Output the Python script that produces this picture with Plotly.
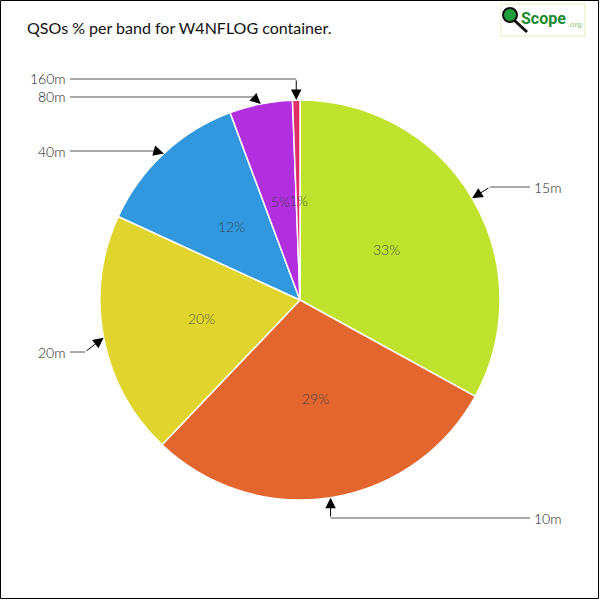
import math
import plotly.graph_objects as go

bands = ["15m", "10m", "20m", "40m", "80m", "160m"]
qsos = [331, 292, 198, 125, 51, 6]
colors = ["#BFE22D", "#E2662E", "#E0D52D", "#3197DE", "#B12FDE", "#E0306A"]
title_text = "QSOs % per band for W4NFLOG container."

W = H = 600
CX, CY, R = 300, 300, 200

fig = go.Figure()
fig.add_trace(go.Pie(
    labels=bands, values=qsos, sort=False, direction="clockwise", rotation=0,
    marker=dict(colors=colors, line=dict(color="white", width=1.5)),
    textinfo="none",
    domain=dict(x=[(CX - R) / W, (CX + R) / W], y=[(H - CY - R) / H, (H - CY + R) / H]),
    showlegend=False, hoverinfo="label+percent",
))

# label layout: (label side, label y in px, elbow x in px)
label_layout = {
    "15m": ("right", 187, 490),
    "10m": ("right", 518, None),
    "20m": ("left", 352, 85),
    "40m": ("left", 151, 155),
    "80m": ("left", 97, 253),
    "160m": ("left", 79, None),
}

total = sum(qsos)
cum = 0.0
annotations = []
shapes = []
for band, v in zip(bands, qsos):
    mid = (cum + v / 2) / total * 2 * math.pi
    cum += v
    tx = CX + R * math.sin(mid)
    ty = CY - R * math.cos(mid)
    # percentage label at half radius
    px = CX + 0.5 * R * math.sin(mid)
    py = CY - 0.5 * R * math.cos(mid)
    annotations.append(dict(xref="paper", yref="paper", x=px / W, y=1 - py / H,
                            xanchor="center", yanchor="middle", showarrow=False,
                            text=f"{math.floor(100 * v / total + 0.5):.0f}%",
                            font=dict(family="Lato", size=14, color="rgba(50,60,70,0.85)", weight=300)))
    side, ly, ex = label_layout[band]
    if ex is None:
        ex = tx
    ey = ly
    lx = 530 if side == "right" else 70
    shapes.append(dict(type="line", xref="paper", yref="paper",
                       x0=lx / W, y0=1 - ly / H, x1=ex / W, y1=1 - ey / H,
                       line=dict(color="#555555", width=1)))
    annotations.append(dict(xref="paper", yref="paper", x=tx / W, y=1 - ty / H,
                            ax=ex - tx, ay=ey - ty, axref="pixel", ayref="pixel",
                            showarrow=True, arrowhead=2, arrowsize=2.1, arrowwidth=1,
                            arrowcolor="#000000", text=""))
    annotations.append(dict(xref="paper", yref="paper",
                            x=(lx + (2 if side == "right" else -2)) / W, y=1 - ly / H,
                            xanchor="left" if side == "right" else "right", yanchor="middle",
                            showarrow=False, text=band,
                            font=dict(family="Lato", size=14, color="#222222", weight=300)))

# title
annotations.append(dict(xref="paper", yref="paper", x=25 / W, y=1 - 28 / H,
                        xanchor="left", yanchor="middle", showarrow=False,
                        text=title_text,
                        font=dict(family="Lato", size=16, color="#111111")))

# logo
shapes.append(dict(type="rect", xref="paper", yref="paper",
                   x0=501 / W, x1=585 / W, y0=1 - 36 / H, y1=1 - 4 / H,
                   line=dict(color="#E8EDC0", width=1), fillcolor="white"))
shapes.append(dict(type="line", xref="paper", yref="paper",
                   x0=514 / W, y0=1 - 20 / H, x1=527 / W, y1=1 - 32 / H,
                   line=dict(color="#111111", width=3)))
shapes.append(dict(type="circle", xref="paper", yref="paper",
                   x0=503 / W, x1=517 / W, y0=1 - 22 / H, y1=1 - 8 / H,
                   line=dict(color="#111111", width=2), fillcolor="#1E9E3A"))
annotations.append(dict(xref="paper", yref="paper", x=519 / W, y=1 - 19 / H,
                        xanchor="left", yanchor="middle", showarrow=False,
                        text="<b>Scope</b>",
                        font=dict(family="Roboto", size=16, color="#1A8C2E")))
annotations.append(dict(xref="paper", yref="paper", x=566 / W, y=1 - 24 / H,
                        xanchor="left", yanchor="middle", showarrow=False,
                        text=".org",
                        font=dict(family="Roboto", size=8, color="#8CCB7A")))

# border
shapes.append(dict(type="rect", xref="paper", yref="paper",
                   x0=0.5 / W, x1=598.5 / W, y0=1.5 / H, y1=1 - 0.5 / H,
                   line=dict(color="black", width=1)))

fig.update_layout(
    width=W, height=H, margin=dict(l=0, r=0, t=0, b=0),
    paper_bgcolor="white", plot_bgcolor="white",
    shapes=shapes, annotations=annotations,
)
fig.write_html("out.html", config={"displayModeBar": False},
               post_script="document.body.style.margin='0';")
